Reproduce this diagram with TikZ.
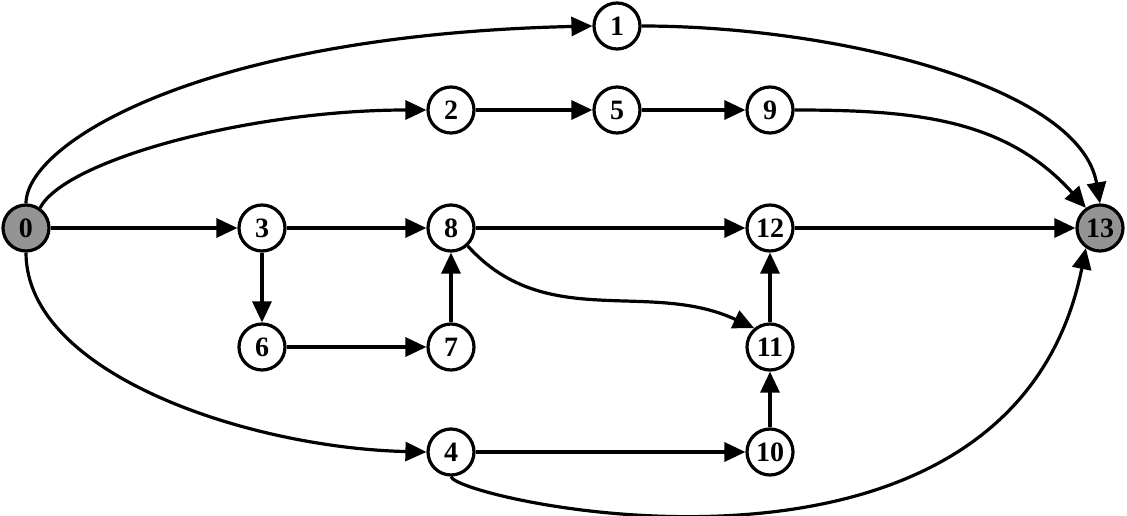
\documentclass[tikz,border=0pt]{standalone}
\usepackage{fontspec}
\setmainfont{Liberation Serif}
\usetikzlibrary{arrows.meta}
\begin{document}
\begin{tikzpicture}[x=1pt,y=1pt,
  st/.style={circle,draw,line width=3.2pt,minimum size=46pt,inner sep=0pt,fill=white,
    font=\fontsize{28}{28}\selectfont\bfseries},
  term/.style={st,fill=black!42},
  ed/.style={line width=3.2pt,-{Triangle[length=21pt,width=19pt]}}]
\useasboundingbox (0,0) rectangle (1127,515);
\node[term] (n0) at (26,287) {0};
\node[st] (n1) at (617,489) {1};
\node[st] (n2) at (451,405) {2};
\node[st] (n5) at (617,405) {5};
\node[st] (n9) at (770,405) {9};
\node[st] (n3) at (262,287) {3};
\node[st] (n8) at (451,287) {8};
\node[st] (n12) at (770,287) {12};
\node[term] (n13) at (1100,287) {13};
\node[st] (n6) at (262,168) {6};
\node[st] (n7) at (451,168) {7};
\node[st] (n11) at (770,168) {11};
\node[st] (n4) at (451,63) {4};
\node[st] (n10) at (770,63) {10};
\draw[ed] (n0.north) .. controls +(0,60) and +(-392,-9) .. (n1.west);
\draw[ed] (n0.55) .. controls +(25,48) and +(-176,0) .. (n2.west);
\draw[ed] (n0) -- (n3);
\draw[ed] (n0.south) .. controls +(0,-122) and +(-176,4) .. (n4.west);
\draw[ed] (n1.east) .. controls +(192,0) and +(-20,118) .. (n13.north);
\draw[ed] (n2) -- (n5);
\draw[ed] (n5) -- (n9);
\draw[ed] (n9.east) to[out=0,in=132] (n13.125);
\draw[ed] (n3) -- (n8);
\draw[ed] (n3) -- (n6);
\draw[ed] (n6) -- (n7);
\draw[ed] (n7) -- (n8);
\draw[ed] (n8) -- (n12);
\draw[ed] (n8.-47) to[out=-48,in=155] (n11.130);
\draw[ed] (n12) -- (n13);
\draw[ed] (n10) -- (n11);
\draw[ed] (n11) -- (n12);
\draw[ed] (n4) -- (n10);
\draw[ed] (n4.south) .. controls +(4,-23) and +(-76,-377) .. (n13.-125);
\end{tikzpicture}
\end{document}
